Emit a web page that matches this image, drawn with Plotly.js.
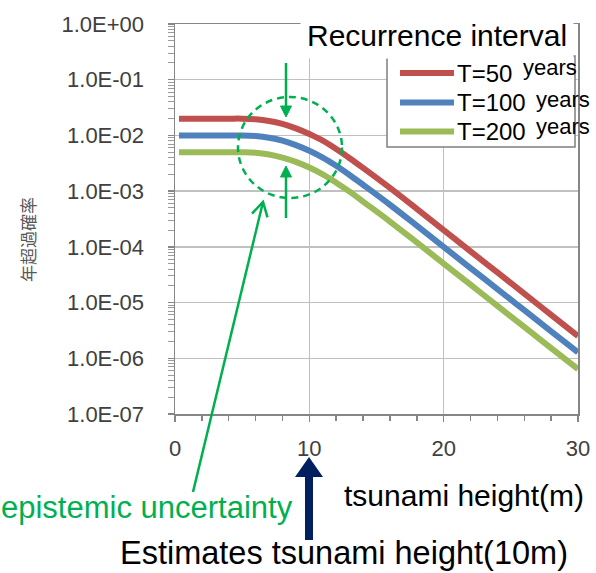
<!DOCTYPE html>
<html>
<head>
<meta charset="utf-8">
<script src="https://cdn.plot.ly/plotly-3.0.1.min.js"></script>
<style>html,body{margin:0;padding:0;background:#fff;}#chart{width:596px;height:573px;}</style>
</head>
<body>
<div id="chart"></div>
<script>
// ---- data ----
const tsunamiHeight = [0.3, 2, 4, 5, 6, 7, 8, 9, 10, 11, 12, 13, 14, 16, 18, 20, 22, 24, 26, 28, 30];
const probT50  = [2.0e-2, 2.0e-2, 2.0e-2, 2.0e-2, 1.95e-2, 1.82e-2, 1.61e-2, 1.34e-2, 1.06e-2, 8.05e-3, 5.7e-3, 3.9e-3, 2.61e-3, 1.14e-3, 4.8e-4, 2.0e-4, 8.3e-5, 3.47e-5, 1.45e-5, 6.0e-6, 2.5e-6];
const probT100 = [1.0e-2, 1.0e-2, 1.0e-2, 1.0e-2, 9.75e-3, 9.1e-3, 8.05e-3, 6.7e-3, 5.3e-3, 4.0e-3, 2.85e-3, 1.95e-3, 1.3e-3, 5.7e-4, 2.4e-4, 1.0e-4, 4.15e-5, 1.75e-5, 7.3e-6, 3.05e-6, 1.28e-6];
const probT200 = [5.0e-3, 5.0e-3, 5.0e-3, 5.0e-3, 4.9e-3, 4.55e-3, 4.0e-3, 3.35e-3, 2.65e-3, 2.0e-3, 1.42e-3, 9.8e-4, 6.5e-4, 2.85e-4, 1.2e-4, 5.0e-5, 2.1e-5, 8.7e-6, 3.65e-6, 1.52e-6, 6.4e-7];
const seriesNames = ['T=50', 'T=100', 'T=200'];
const seriesUnit = 'years';
const xTickVals = [0, 10, 20, 30];
const yTickVals = [1, 1e-1, 1e-2, 1e-3, 1e-4, 1e-5, 1e-6, 1e-7];
const yTickText = ['1.0E+00', '1.0E-01', '1.0E-02', '1.0E-03', '1.0E-04', '1.0E-05', '1.0E-06', '1.0E-07'];
const yTitle = '年超過確率';
const legendTitle = 'Recurrence interval';
const xTitle = 'tsunami height(m)';
const noteUncertainty = 'epistemic uncertainty';
const noteEstimate = 'Estimates tsunami height(10m)';

// ---- styling ----
const colors = ['#C0504D', '#4F81BD', '#9BBB59'];
const GREEN = '#00B050';
const NAVY = '#002060';
const FONT = 'Liberation Sans, Arial, sans-serif';
const W = 596, H = 573;
const M = {l: 175, r: 18, t: 24, b: 159};
const PW = W - M.l - M.r, PH = H - M.t - M.b;
const X = px => (px - M.l) / PW;       // pixel -> paper
const Y = py => (H - M.b - py) / PH;

const series = [probT50, probT100, probT200];
const traces = series.map((s, i) => ({
  x: tsunamiHeight, y: s, type: 'scatter', mode: 'lines', name: seriesNames[i],
  line: {color: colors[i], width: 6, shape: 'spline', smoothing: 1},
  showlegend: false, hoverinfo: 'skip'
}));

const shapes = [];
const annotations = [];
const P = (pts) => pts.map((p, k) => (k ? 'L' : 'M') + X(p[0]).toFixed(5) + ',' + Y(p[1]).toFixed(5)).join(' ');

// legend box
shapes.push({type: 'rect', xref: 'paper', yref: 'paper', x0: X(387), x1: X(575), y0: Y(147), y1: Y(56),
  line: {color: '#7f7f7f', width: 1.5}, fillcolor: '#ffffff', layer: 'above'});
const rowY = [73, 102.5, 131.5];
const yearsY = [67, 99, 127];
const yearsX = [522, 535, 535];
rowY.forEach((ry, i) => {
  shapes.push({type: 'line', xref: 'paper', yref: 'paper', x0: X(400), x1: X(454), y0: Y(ry), y1: Y(ry),
    line: {color: colors[i], width: 6}, layer: 'above'});
  annotations.push({xref: 'paper', yref: 'paper', x: X(456), y: Y(ry), xanchor: 'left', yanchor: 'middle',
    text: seriesNames[i], showarrow: false, borderpad: 0, font: {family: FONT, size: 24, color: '#000'}});
  annotations.push({xref: 'paper', yref: 'paper', x: X(yearsX[i]), y: Y(yearsY[i]), xanchor: 'left', yanchor: 'middle',
    text: seriesUnit, showarrow: false, borderpad: 0, font: {family: FONT, size: 22, color: '#000'}});
});

// dashed circle
shapes.push({type: 'circle', xref: 'paper', yref: 'paper', x0: X(238), x1: X(342), y0: Y(198), y1: Y(97),
  line: {color: GREEN, width: 2.5, dash: '7px,5px'}, layer: 'above'});
// down arrow
shapes.push({type: 'line', xref: 'paper', yref: 'paper', x0: X(286), x1: X(286), y0: Y(63), y1: Y(108), line: {color: GREEN, width: 2.5}});
shapes.push({type: 'path', xref: 'paper', yref: 'paper', path: P([[280.5, 106], [291.5, 106], [286, 117]]) + ' Z', fillcolor: GREEN, line: {color: GREEN, width: 1}});
// up arrow
shapes.push({type: 'line', xref: 'paper', yref: 'paper', x0: X(286), x1: X(286), y0: Y(218), y1: Y(176), line: {color: GREEN, width: 2.5}});
shapes.push({type: 'path', xref: 'paper', yref: 'paper', path: P([[280.5, 177], [291.5, 177], [286, 166]]) + ' Z', fillcolor: GREEN, line: {color: GREEN, width: 1}});
// long pointer arrow
const tip = [263, 202], tail = [193, 492];
shapes.push({type: 'line', xref: 'paper', yref: 'paper', x0: X(tail[0]), x1: X(tip[0]), y0: Y(tail[1]), y1: Y(tip[1]), line: {color: GREEN, width: 2.5}});
(function(){
  const dx = tail[0] - tip[0], dy = tail[1] - tip[1], L = Math.hypot(dx, dy);
  const ux = dx / L, uy = dy / L, a = Math.PI / 6, len = 16;
  const r1 = [tip[0] + len * (ux * Math.cos(a) - uy * Math.sin(a)), tip[1] + len * (ux * Math.sin(a) + uy * Math.cos(a))];
  const r2 = [tip[0] + len * (ux * Math.cos(a) + uy * Math.sin(a)), tip[1] + len * (-ux * Math.sin(a) + uy * Math.cos(a))];
  shapes.push({type: 'path', xref: 'paper', yref: 'paper', path: P([r1, tip, r2]), line: {color: GREEN, width: 2.5}});
})();
// navy arrow
shapes.push({type: 'path', xref: 'paper', yref: 'paper',
  path: P([[305, 540], [305, 477], [295, 477], [309, 457], [323, 477], [313, 477], [313, 540]]) + ' Z',
  fillcolor: NAVY, line: {color: NAVY, width: 0}});

// texts
annotations.push({xref: 'paper', yref: 'paper', x: X(300), y: Y(35), xanchor: 'left', yanchor: 'middle',
  text: legendTitle, showarrow: false, bgcolor: '#ffffff', borderpad: 6,
  font: {family: FONT, size: 30, color: '#000'}});
annotations.push({xref: 'paper', yref: 'paper', x: X(342), y: Y(496), xanchor: 'left', yanchor: 'middle',
  text: xTitle, showarrow: false, font: {family: FONT, size: 30, color: '#000'}});
annotations.push({xref: 'paper', yref: 'paper', x: X(-1), y: Y(507), xanchor: 'left', yanchor: 'middle',
  text: noteUncertainty, showarrow: false, font: {family: FONT, size: 31, color: GREEN}});
annotations.push({xref: 'paper', yref: 'paper', x: X(344), y: Y(553), xanchor: 'center', yanchor: 'middle',
  text: noteEstimate, showarrow: false, font: {family: FONT, size: 32.5, color: '#000'}});
annotations.push({xref: 'paper', yref: 'paper', x: X(27), y: Y(240), xanchor: 'center', yanchor: 'middle', textangle: -90,
  text: yTitle, showarrow: false, font: {family: 'Noto Sans CJK JP, sans-serif', size: 17, color: '#595959'}});

const layout = {
  width: W, height: H, margin: M, paper_bgcolor: '#fff', plot_bgcolor: '#fff', showlegend: false,
  xaxis: {range: [0, 30], tickvals: xTickVals, ticks: 'outside', ticklen: 6, tickcolor: '#868686', tickwidth: 1.5,
    showgrid: true, gridcolor: '#c0c0c0', gridwidth: 1.5, zeroline: false,
    showline: true, linecolor: '#868686', linewidth: 1.5, mirror: true,
    minor: {dtick: 2, ticks: 'outside', ticklen: 5, tickcolor: '#868686', tickwidth: 1.5, showgrid: false},
    ticklabelstandoff: 8,
    tickfont: {family: FONT, size: 22, color: '#404040'}},
  yaxis: {type: 'log', range: [-7, 0], tickvals: yTickVals, ticktext: yTickText, ticks: 'outside', ticklen: 6,
    tickcolor: '#868686', tickwidth: 1.5,
    showgrid: true, gridcolor: '#c0c0c0', gridwidth: 1.5, zeroline: false,
    showline: true, linecolor: '#868686', linewidth: 1.5, mirror: true,
    minor: {dtick: 'D1', ticks: 'outside', ticklen: 6, tickcolor: '#9a9a9a', tickwidth: 1, showgrid: false},
    ticklabelstandoff: 19,
    tickfont: {family: FONT, size: 22, color: '#404040'}},
  shapes: shapes, annotations: annotations
};

Plotly.newPlot('chart', traces, layout, {staticPlot: true, displayModeBar: false});
</script>
</body>
</html>
